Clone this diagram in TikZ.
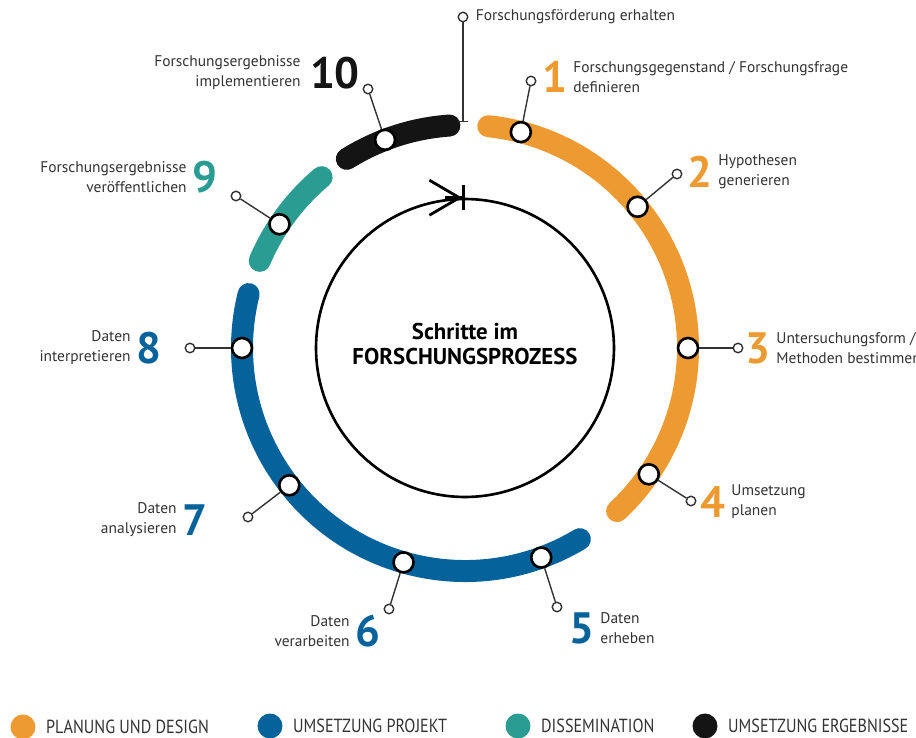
\documentclass[tikz,border=0pt]{standalone}
\usepackage{fontspec}
\setmainfont{PT Sans}
\newfontfamily\legendfont[FakeStretch=0.85]{PT Sans}
\usetikzlibrary{arrows.meta,positioning}
\definecolor{planung}{HTML}{EE9A33}
\definecolor{projekt}{HTML}{05629A}
\definecolor{dissem}{HTML}{2B9C91}
\definecolor{ergebnis}{HTML}{141414}
\definecolor{textgray}{HTML}{333333}

\begin{document}
\begin{tikzpicture}[x=0.02cm,y=0.02cm,node distance=3pt,
    band/.style={line width=0.44cm,line cap=round},
    marker/.style={circle,draw=black,fill=white,line width=1.5pt,minimum size=0.4cm,inner sep=0},
    pin/.style={circle,draw=textgray,fill=white,line width=0.8pt,minimum size=0.19cm,inner sep=0},
    lead/.style={draw=textgray,line width=0.8pt},
    num/.style={font=\fontsize{25}{25}\selectfont\bfseries,inner sep=0},
    lbl/.style={font=\fontsize{8.8}{11.4}\selectfont,text=textgray,inner sep=0},
    legdot/.style={circle,minimum size=0.5cm,inner sep=0},
    leg/.style={font=\legendfont\fontsize{10.8}{12}\selectfont,text=textgray,inner sep=0,right=0.2cm of #1}]

  \useasboundingbox (-465,-389) rectangle (451,348);

  % phases on the outer ring
  \draw[band,planung] (84:223) arc (84:-47:223);
  \draw[band,projekt] (-59:223) arc (-59:-194:223);
  \draw[band,dissem] (157:223) arc (157:130:223);
  \draw[band,ergebnis] (122:223) arc (122:94:223);

  % inner cycle
  \node[circle,draw,line width=1.5pt,minimum size=5.96cm] (cycle) at (0,0) {};
  \node[align=center,font=\bfseries\fontsize{13}{14.7}\selectfont] (title) at (0,4) {Schritte im\\FORSCHUNGSPROZESS};
  \coordinate (back) at ([xshift=-0.4cm]cycle.north);
  \draw[line width=1.6pt,-{Straight Barb[length=0.6cm,width=0.7cm]Bar[width=0.5cm]}] (back) -- (cycle.north);

  % steps on the ring
  \foreach \a [count=\i] in {75.5,39.3,0,-34.5,-70,-106,-142,180,146.3,111}
    \node[marker] (m\i) at (\a:223) {};

  \node[pin] (p1) at (66,267) {};
  \node[pin] (p2) at (212,174) {};
  \node[pin] (p3) at (273,0) {};
  \node[pin] (p4) at (226,-153) {};
  \node[pin] (p5) at (92,-259) {};
  \node[pin] (p6) at (-76,-261) {};
  \node[pin] (p7) at (-217,-169) {};
  \node[pin] (p8) at (-275,0) {};
  \node[pin] (p9) at (-229,152) {};
  \node[pin] (p10) at (-97,259) {};
  \foreach \i in {1,...,10}
    \draw[lead] (m\i) -- (p\i);

  \node[num,planung] (n1) at (90,271) {1};
  \node[lbl,align=left,right=of n1] (t1) {Forschungsgegenstand / Forschungsfrage\\definieren};
  \node[num,planung] (n2) at (235,176) {2};
  \node[lbl,align=left,right=of n2] (t2) {Hypothesen\\generieren};
  \node[num,planung] (n3) at (293,0) {3};
  \node[lbl,align=left,right=of n3] (t3) {Untersuchungsform /\\Methoden bestimmen};
  \node[num,planung] (n4) at (248,-154) {4};
  \node[lbl,align=left,right=of n4] (t4) {Umsetzung\\planen};
  \node[num,projekt] (n5) at (117,-280) {5};
  \node[lbl,align=left,right=of n5] (t5) {Daten\\erheben};
  \node[num,projekt] (n6) at (-97,-283) {6};
  \node[lbl,align=right,left=of n6] (t6) {Daten\\verarbeiten};
  \node[num,projekt] (n7) at (-270,-172) {7};
  \node[lbl,align=right,left=of n7] (t7) {Daten\\analysieren};
  \node[num,projekt] (n8) at (-316,0) {8};
  \node[lbl,align=right,left=of n8] (t8) {Daten\\interpretieren};
  \node[num,dissem] (n9) at (-260,171) {9};
  \node[lbl,align=right,left=of n9] (t9) {Forschungsergebnisse\\veröffentlichen};
  \node[num,ergebnis] (n10) at (-130,275) {10};
  \node[lbl,align=right,left=5pt of n10] (t10) {Forschungsergebnisse\\implementieren};

  % funding
  \node[pin] (pf) at (-2,331) {};
  \node[lbl,right=4pt of pf] (tf) {Forschungsförderung erhalten};
  \coordinate (pfend) at (-2,226);
  \draw[lead,-{Bar[width=0.2cm]}] (pf) -- (pfend);

  % legend
  \node[legdot,fill=planung] (l1) at (-442,-379) {};
  \node[leg=l1] {PLANUNG UND DESIGN};
  \node[legdot,fill=projekt] (l2) at (-195,-378) {};
  \node[leg=l2] {UMSETZUNG PROJEKT};
  \node[legdot,fill=dissem] (l3) at (53,-378) {};
  \node[leg=l3] {DISSEMINATION};
  \node[legdot,fill=ergebnis] (l4) at (240,-378) {};
  \node[leg=l4] {UMSETZUNG ERGEBNISSE};
\end{tikzpicture}
\end{document}
